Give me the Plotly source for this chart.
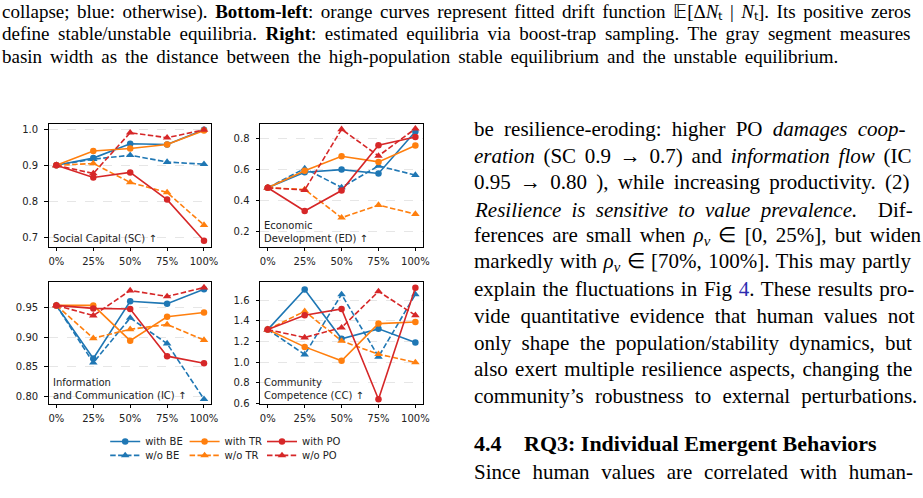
import plotly.graph_objects as go

W, H = 923, 498

x_labels = ["0%", "25%", "50%", "75%", "100%"]
x_idx = [0, 1, 2, 3, 4]

# Social Capital (SC)
sc_with_be = [0.901, 0.921, 0.961, 0.959, 1.000]
sc_wo_be = [0.901, 0.918, 0.929, 0.910, 0.904]
sc_with_tr = [0.901, 0.941, 0.948, 0.959, 0.998]
sc_wo_tr = [0.901, 0.906, 0.853, 0.825, 0.734]
sc_with_po = [0.901, 0.867, 0.881, 0.805, 0.690]
sc_wo_po = [0.901, 0.878, 0.992, 0.978, 1.000]

# Economic Development (ED)
ed_with_be = [0.483, 0.584, 0.601, 0.576, 0.848]
ed_wo_be = [0.483, 0.608, 0.485, 0.625, 0.565]
ed_with_tr = [0.483, 0.593, 0.688, 0.651, 0.757]
ed_wo_tr = [0.483, 0.472, 0.288, 0.370, 0.312]
ed_with_po = [0.483, 0.332, 0.465, 0.759, 0.813]
ed_wo_po = [0.483, 0.468, 0.863, 0.690, 0.867]

# Information and Communication (IC)
ic_with_be = [0.953, 0.864, 0.960, 0.956, 0.980]
ic_wo_be = [0.953, 0.857, 0.932, 0.889, 0.796]
ic_with_tr = [0.953, 0.953, 0.894, 0.934, 0.941]
ic_wo_tr = [0.953, 0.898, 0.913, 0.921, 0.895]
ic_with_po = [0.953, 0.948, 0.947, 0.868, 0.856]
ic_wo_po = [0.953, 0.936, 0.978, 0.968, 0.983]

# Community Competence (CC)
cc_with_be = [1.316, 1.706, 1.226, 1.323, 1.190]
cc_wo_be = [1.316, 1.074, 1.658, 1.052, 1.658]
cc_with_tr = [1.316, 1.148, 1.013, 1.374, 1.390]
cc_wo_tr = [1.316, 1.494, 1.206, 1.077, 0.997]
cc_with_po = [1.316, 1.455, 1.516, 0.639, 1.723]
cc_wo_po = [1.316, 1.239, 1.335, 1.687, 1.455]

panel_titles = ["Social Capital (SC) ↑", "Economic<br>Development (ED) ↑",
                "Information<br>and Communication (IC) ↑", "Community<br>Competence (CC) ↑"]
y_ticks = [[0.7, 0.8, 0.9, 1.0], [0.2, 0.4, 0.6, 0.8],
           [0.80, 0.85, 0.90, 0.95], [0.6, 0.8, 1.0, 1.2, 1.4, 1.6]]
y_ranges = [[0.674, 1.017], [0.101, 0.899], [0.788, 0.992], [0.594, 1.777]]
y_formats = [".1f", ".1f", ".2f", ".1f"]

panels = [
    [sc_with_be, sc_wo_be, sc_with_tr, sc_wo_tr, sc_with_po, sc_wo_po],
    [ed_with_be, ed_wo_be, ed_with_tr, ed_wo_tr, ed_with_po, ed_wo_po],
    [ic_with_be, ic_wo_be, ic_with_tr, ic_wo_tr, ic_with_po, ic_wo_po],
    [cc_with_be, cc_wo_be, cc_with_tr, cc_wo_tr, cc_with_po, cc_wo_po],
]
series_names = ["with BE", "w/o BE", "with TR", "w/o TR", "with PO", "w/o PO"]
series_colors = ["#1f77b4", "#1f77b4", "#ff7f0e", "#ff7f0e", "#d62728", "#d62728"]

def px(x):
    return x / W

def py(y):
    return 1 - y / H

# plot boxes in pixels: (left, top, right, bottom)
boxes = [(49, 125, 213, 249), (262, 125, 426, 249), (49, 285, 213, 408), (262, 285, 426, 408)]
# legend entry positions (left x, row centre y) for each series
legend_pos = [(106, 446), (106, 460), (186, 446), (186, 460), (264, 446), (264, 460)]

fig = go.Figure()
CHART_FONT = "DejaVu Sans"
TXT = "#222222"

def legend_id(s):
    return "legend" if s == 0 else "legend%d" % (s + 1)

for p, data in enumerate(panels):
    ax = "" if p == 0 else str(p + 1)
    for s, vals in enumerate(data):
        is_with = s % 2 == 0
        fig.add_trace(go.Scatter(
            x=x_idx, y=vals, mode="lines+markers", name=series_names[s],
            line=dict(color=series_colors[s], width=1.6,
                      dash="solid" if is_with else "5.5px,2.4px"),
            marker=dict(color=series_colors[s], size=6.5 if is_with else 7.5,
                        symbol="circle" if is_with else "triangle-up", line=dict(width=0)),
            xaxis="x" + ax, yaxis="y" + ax,
            showlegend=(p == 0),
            legend=legend_id(s),
        ))

layout = dict(
    width=W, height=H, margin=dict(l=0, r=0, t=0, b=0),
    paper_bgcolor="white", plot_bgcolor="white",
    font=dict(family=CHART_FONT, size=10, color=TXT),
)

for p, (l, t, r, b) in enumerate(boxes):
    ax = "" if p == 0 else str(p + 1)
    layout["xaxis" + ax] = dict(
        domain=[px(l), px(r)], anchor="y" + ax, range=[-0.21, 4.2],
        tickmode="array", tickvals=x_idx, ticktext=x_labels,
        showline=True, linecolor="black", linewidth=1, mirror=True,
        ticks="outside", ticklen=3.5, tickwidth=0.8, tickcolor="black",
        ticklabelstandoff=2,
        showgrid=False, zeroline=False, fixedrange=True,
        tickfont=dict(family=CHART_FONT, size=10, color=TXT),
    )
    layout["yaxis" + ax] = dict(
        domain=[py(b), py(t)], anchor="x" + ax, range=y_ranges[p],
        tickmode="array", tickvals=y_ticks[p], tickformat=y_formats[p],
        showline=True, linecolor="black", linewidth=1, mirror=True,
        ticks="outside", ticklen=3.5, tickwidth=0.8, tickcolor="black",
        ticklabelstandoff=4,
        showgrid=True, gridcolor="#e6e6e6", griddash="dash", gridwidth=0.8,
        zeroline=False, fixedrange=True,
        tickfont=dict(family=CHART_FONT, size=10, color=TXT),
    )

for s, (lx, ly) in enumerate(legend_pos):
    layout[legend_id(s)] = dict(
        orientation="h", xanchor="left", yanchor="middle",
        x=px(lx), y=py(ly), bgcolor="rgba(0,0,0,0)",
        font=dict(family=CHART_FONT, size=10, color=TXT), itemwidth=30,
        tracegroupgap=0,
    )

annotations = []
for p, (l, t, r, b) in enumerate(boxes):
    ax = "" if p == 0 else str(p + 1)
    annotations.append(dict(
        text=panel_titles[p], xref=("x" + ax + " domain"), yref=("y" + ax + " domain"),
        x=0, y=0, xanchor="left", yanchor="bottom", xshift=2, yshift=1,
        showarrow=False, align="left",
        font=dict(family=CHART_FONT, size=10, color=TXT),
    ))

SERIF = "Liberation Serif"

def spaced(txt, ws):
    return "<span style='word-spacing:%.1fpx'>%s</span>" % (ws, txt)

caption_lines = [
    (11, 2.8, "collapse; blue: otherwise). <b>Bottom-left</b>: orange curves represent fitted drift function 𝔼[Δ<i>N</i>ₜ | <i>N</i>ₜ]. Its positive zeros"),
    (34, 3.8, "define stable/unstable equilibria. <b>Right</b>: estimated equilibria via boost-trap sampling. The gray segment measures"),
    (57, 3.2, "basin width as the distance between the high-population stable equilibrium and the unstable equilibrium."),
]
for i, (yy, ws, txt) in enumerate(caption_lines):
    if i == 0:
        ann = dict(y=1.0, yanchor="top")
    else:
        ann = dict(y=py(yy), yanchor="middle")
    annotations.append(dict(text=spaced(txt, ws), xref="paper", yref="paper", x=px(1),
                            xanchor="left", showarrow=False, align="left", borderpad=0,
                            font=dict(family=SERIF, size=19, color="black"), **ann))

body_lines = [
    (130, 5.0, "be resilience-eroding: higher PO <i>damages coop-</i>"),
    (158, 3.5, "<i>eration</i> (SC 0.9 → 0.7) and <i>information flow</i> (IC"),
    (184, 4.0, "0.95 → 0.80 ), while increasing productivity. (2)"),
    (212, 5.0, "<i>Resilience is sensitive to value prevalence.</i>  Dif-"),
    (238, 3.0, "ferences are small when <i>ρ</i><sub><i>v</i></sub> ∈ [0, 25%], but widen"),
    (265, 1.2, "markedly with <i>ρ</i><sub><i>v</i></sub> ∈ [70%, 100%]. This may partly"),
    (292, 1.5, "explain the fluctuations in Fig <span style='color:#2b2bb0'>4</span>. These results pro-"),
    (319, 5.0, "vide quantitative evidence that human values not"),
    (346, 5.0, "only shape the population/stability dynamics, but"),
    (373, 2.0, "also exert multiple resilience aspects, changing the"),
    (400, 6.0, "community’s robustness to external perturbations."),
    (477, 6.5, "Since human values are correlated with human-"),
]
for yy, ws, txt in body_lines:
    annotations.append(dict(text=spaced(txt, ws), xref="paper", yref="paper", x=px(476), y=py(yy),
                            xanchor="left", yanchor="middle", showarrow=False, align="left",
                            font=dict(family=SERIF, size=21, color="black")))

annotations.append(dict(text="<b>4.4</b>", xref="paper", yref="paper", x=px(476), y=py(448),
                        xanchor="left", yanchor="middle", showarrow=False,
                        font=dict(family=SERIF, size=22, color="black")))
annotations.append(dict(text="<b>RQ3: Individual Emergent Behaviors</b>", xref="paper", yref="paper",
                        x=px(526), y=py(448), xanchor="left", yanchor="middle", showarrow=False,
                        font=dict(family=SERIF, size=22, color="black")))

layout["annotations"] = annotations
fig.update_layout(**layout)

fig.write_html("out.html")
